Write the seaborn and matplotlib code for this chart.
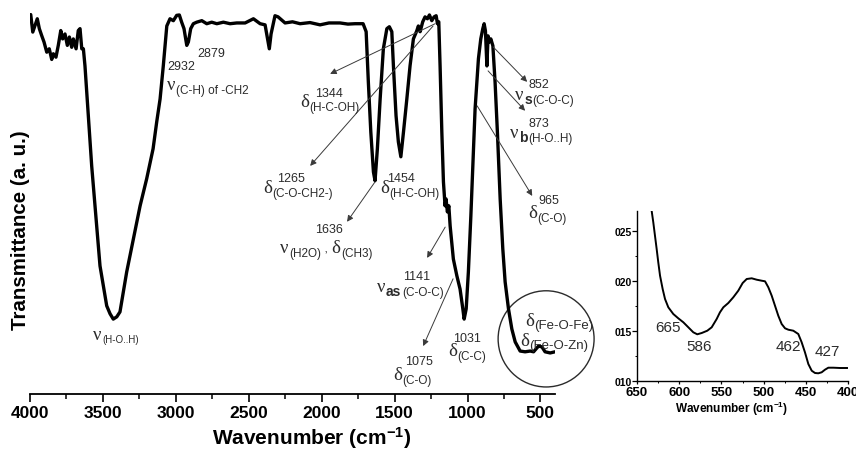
import matplotlib
matplotlib.use("Agg")
import matplotlib.pyplot as plt
import seaborn as sns
import pandas as pd
from matplotlib.patches import Ellipse
from matplotlib.ticker import MultipleLocator

# ---------------- data ----------------
wavenumber = [3995, 3981, 3966, 3950, 3936, 3920, 3904, 3885, 3868, 3851, 3840, 3822, 3806,
              3789, 3776, 3760, 3744, 3730, 3714, 3703, 3684, 3669, 3657, 3645, 3634,
              3623, 3577, 3520, 3474, 3451, 3429, 3405, 3383, 3337, 3291, 3245, 3200, 3156,
              3131, 3108, 3086, 3062, 3040,
              3017, 2994, 2976, 2960, 2944, 2925, 2914, 2898, 2880, 2857, 2822, 2788,
              2754, 2719, 2674, 2628, 2582, 2525, 2468, 2422, 2388, 2371, 2359, 2347,
              2320, 2299, 2251, 2200, 2148, 2080, 2011, 1950, 1874, 1820, 1771, 1716,
              1695, 1680, 1663, 1645, 1634, 1618, 1599, 1577, 1553, 1536, 1519, 1508,
              1490, 1474, 1457, 1439, 1416, 1394, 1371, 1348, 1337, 1325, 1307, 1291,
              1275, 1261, 1245, 1229, 1215, 1206, 1197, 1188, 1176, 1165, 1154, 1147,
              1138, 1128, 1119, 1097, 1073, 1051, 1032, 1023, 1009, 994, 977, 959, 948,
              936, 925, 909, 895, 886, 877, 867, 859, 850, 840, 826, 811, 795, 776, 758,
              742, 719, 696, 673, 639, 605, 570, 547, 513, 490, 468, 433, 400]
transmittance = [99.8, 95.2, 96.9, 98.7, 96.1, 94.3, 92.6, 89.9, 90.8, 88.0, 89.5, 88.6, 91.7,
                 95.6, 93.4, 94.7, 91.7, 93.9, 91.2, 93.4, 90.8, 95.6, 96.1, 90.8, 90.8,
                 86.3, 60.0, 33.7, 23.2, 21.1, 19.7, 20.3, 21.6, 32.1, 40.8, 49.5, 56.6, 64.5,
                 71.6, 77.6, 86.3, 96.8, 98.7,
                 98.2, 99.6, 99.7, 97.8, 96.1, 91.7, 92.6, 96.1, 97.4, 97.8, 98.2, 97.4,
                 97.8, 97.4, 97.8, 97.4, 97.6, 97.6, 98.7, 97.4, 97.1, 93.4, 90.8, 94.7,
                 99.5, 99.2, 97.6, 97.9, 97.4, 97.7, 97.1, 97.6, 97.6, 97.3, 97.4, 97.4,
                 95.3, 82.1, 68.9, 58.4, 56.1, 64.5, 77.6, 90.8, 96.1, 96.6, 95.3, 86.3,
                 73.2, 66.3, 62.4, 68.9, 77.6, 86.3, 93.4, 95.5, 96.8, 95.3, 97.9, 99.2,
                 98.7, 99.7, 98.2, 99.2, 99.5, 97.4, 97.9, 86.3, 68.9, 55.8, 49.5, 51.3,
                 47.9, 49.5, 44.2, 35.5, 31.1, 27.6, 22.4, 19.7, 22.4, 32.1, 46.8, 64.5, 75.0,
                 82.1, 88.2, 93.4, 96.1, 97.4, 95.5, 86.3, 94.2, 92.6, 93.4, 91.6, 82.1, 68.9,
                 51.3, 38.2, 29.5, 22.4, 17.1, 13.7, 11.3, 11.1, 11.3, 11.1, 12.6, 12.4,
                 11.1, 10.8, 11.1]

inset_wavenumber = [632.6, 630.7, 628.7, 626.7, 624.8, 622.7, 619.6, 616.8, 612.9, 607.0, 601.1,
                    595.1, 589.2, 583.3, 578.6, 573.3, 566.7, 561.5, 555.6, 551.7, 547.7, 541.8,
                    535.9, 530.0, 524.8, 520.0, 514.1, 508.2, 502.3, 498.3, 494.4, 490.4, 486.5,
                    482.6, 478.6, 474.6, 470.7, 464.8, 458.9, 454.9, 451.0, 447.0, 443.0, 439.1,
                    435.2, 431.2, 427.3, 423.3, 417.4, 409.5, 400.4]
inset_value = [0.0270, 0.02587, 0.02453, 0.0232, 0.02187, 0.02053, 0.0192, 0.0182, 0.01737,
               0.0167, 0.01627, 0.01587, 0.01537, 0.01487, 0.01467, 0.0148, 0.01503, 0.01537,
               0.0162, 0.01687, 0.01737, 0.0178, 0.01837, 0.01903, 0.0198, 0.0202, 0.02027,
               0.02013, 0.02003, 0.01997, 0.01937, 0.01853, 0.01753, 0.01653, 0.0157, 0.01527,
               0.01513, 0.01503, 0.0147, 0.01387, 0.01287, 0.0117, 0.01103, 0.0108, 0.01077,
               0.01087, 0.01113, 0.01133, 0.01133, 0.0113, 0.0113]

main_xticks = [4000, 3500, 3000, 2500, 2000, 1500, 1000, 500]
inset_xticks = [650, 600, 550, 500, 450, 400]
inset_yticks = [0.010, 0.015, 0.020, 0.025]
inset_yticklabels = ["010", "015", "020", "025"]

# peak numbers: text, wavenumber position, transmittance position
peak_numbers = ["2932", "2879", "1344", "1265", "1454", "1636", "1141", "1075", "1031", "852", "873", "965"]
peak_number_wn = [3060, 2855, 2045, 2306, 1551, 2045, 1442, 1428, 1099, 584, 584, 516]
peak_number_t = [85.5, 88.9, 78.4, 56.1, 56.1, 42.6, 30.3, 7.9, 13.9, 80.8, 70.5, 50.3]

# arrows: tail (wn, t) -> head (wn, t)
arrow_tail_wn = [1222, 1236, 1634, 1153, 1099, 824, 859, 934]
arrow_tail_t = [97.4, 96.8, 55.8, 43.9, 30.3, 91.3, 85.0, 75.8]
arrow_head_wn = [1942, 2079, 1826, 1277, 1304, 591, 605, 556]
arrow_head_t = [84.2, 60.0, 45.3, 35.8, 12.6, 82.1, 74.5, 52.1]

# band assignments: (wn, t, [(text, kind)])  kind: sym / sub / bold / plain
assignments = [
    (3060, 80.3, [("ν", "sym"), ("(C-H) of -CH2", "sub")]),
    (2148, 75.8, [("δ", "sym"), ("(H-C-OH)", "sub")]),
    (2402, 53.2, [("δ", "sym"), ("(C-O-CH2-)", "sub")]),
    (1599, 53.2, [("δ", "sym"), ("(H-C-OH)", "sub")]),
    (2285, 37.4, [("ν", "sym"), ("(H2O)", "sub"), (" , ", "plain"), ("δ", "sym"), ("(CH3)", "sub")]),
    (1620, 27.1, [("ν", "sym"), ("as", "bold"), ("(C-O-C)", "sub")]),
    (1510, 3.9, [("δ", "sym"), ("(C-O)", "sub")]),
    (1133, 10.3, [("δ", "sym"), ("(C-C)", "sub")]),
    (673, 77.6, [("ν", "sym"), ("s", "bold"), ("(C-O-C)", "sub")]),
    (708, 67.6, [("ν", "sym"), ("b", "bold"), ("(H-O..H)", "sub")]),
    (584, 46.6, [("δ", "sym"), ("(C-O)", "sub")]),
    (3568, 14.5, [("ν", "sym"), ("(H-O..H)", "small")]),
    (605, 18.2, [("δ", "sym"), ("(Fe-O-Fe)", "big")]),
    (639, 12.9, [("δ", "sym"), ("(Fe-O-Zn)", "big")]),
]

inset_numbers = ["665", "586", "462", "427"]
inset_number_wn = [628.7, 591.1, 485.3, 440.0]
inset_number_val = [0.01503, 0.01313, 0.01313, 0.01263]

# ---------------- style ----------------
sns.set_theme(style="white")
plt.rcParams["font.family"] = ["Liberation Sans", "DejaVu Sans"]
plt.rcParams["mathtext.fontset"] = "custom"
plt.rcParams["mathtext.rm"] = "Liberation Sans"
plt.rcParams["mathtext.bf"] = "Liberation Sans:bold"
plt.rcParams["mathtext.it"] = "Liberation Sans:italic"

TXT = "#2b2b2b"
fig = plt.figure(figsize=(8.56, 4.52), dpi=100)
ax = fig.add_axes([30 / 856, 57 / 452, 525 / 856, 395 / 452])
ax.set_facecolor("none")

df = pd.DataFrame({"wn": wavenumber, "t": transmittance})
sns.lineplot(data=df, x="wn", y="t", ax=ax, sort=False, estimator=None,
             color="black", lw=2.4)
ax.set_xlim(4000, 400)
ax.set_ylim(0, 103.9)
for s in ["left", "top", "right"]:
    ax.spines[s].set_visible(False)
ax.spines["bottom"].set_color("black")
ax.spines["bottom"].set_linewidth(1.3)
ax.set_yticks([])
ax.set_xticks(main_xticks)
ax.xaxis.set_minor_locator(MultipleLocator(250))
ax.tick_params(axis="x", which="major", bottom=True, direction="out", length=5.5, width=1.2,
               color="black", labelsize=12.5, pad=2.5, labelcolor="black")
ax.tick_params(axis="x", which="minor", bottom=True, direction="out", length=3.5, width=1.1,
               color="black")
for lbl in ax.get_xticklabels():
    lbl.set_fontweight("bold")
ax.set_xlabel(r"Wavenumber (cm$^{\mathbf{-1}}$)", fontsize=15, fontweight="bold", color="black")
ax.xaxis.label.set_va("center")
ax.xaxis.set_label_coords(0.537, -0.109)
ax.set_ylabel("Transmittance (a. u.)", fontsize=14.8, fontweight="bold", color="black")
ax.yaxis.label.set_va("center")
ax.yaxis.set_label_coords(-0.019, 0.418)

# peak numbers
for txt, w, t in zip(peak_numbers, peak_number_wn, peak_number_t):
    ax.text(w, t, txt, fontsize=9, color=TXT, ha="left", va="baseline")

# arrows
for tw, tt, hw, ht in zip(arrow_tail_wn, arrow_tail_t, arrow_head_wn, arrow_head_t):
    ax.annotate("", xy=(hw, ht), xytext=(tw, tt),
                arrowprops=dict(arrowstyle="-|>", color="#3a3a3a", lw=0.7,
                                mutation_scale=9, shrinkA=0, shrinkB=0))

# assignments
styles = {
    "sym": dict(fontsize=13.5, family=["Liberation Serif", "DejaVu Serif"], dy=0, dx=0),
    "sub": dict(fontsize=8.5, family=["Liberation Sans"], dy=-3, dx=0.3),
    "small": dict(fontsize=7, family=["Liberation Sans"], dy=-2.5, dx=0.3),
    "big": dict(fontsize=9.5, family=["Liberation Sans"], dy=-2, dx=0.3),
    "bold": dict(fontsize=10, family=["Liberation Sans"], dy=-3, dx=0.3, fontweight="bold"),
    "plain": dict(fontsize=9, family=["Liberation Sans"], dy=0, dx=0),
}
for w, t, parts in assignments:
    prev = None
    for txt, kind in parts:
        st = dict(styles[kind])
        dx = st.pop("dx")
        dy = st.pop("dy")
        if prev is None:
            prev = ax.text(w, t, txt, color=TXT, ha="left", va="baseline", **st)
        else:
            prev = ax.annotate(txt, xy=(1, t), xycoords=(prev, "data"), xytext=(dx, dy),
                               textcoords="offset points", color=TXT, ha="left",
                               va="baseline", **st)

# circle around the Fe-O region
ax.add_patch(Ellipse((461, 14.5), width=658, height=25.3, fill=False, lw=1.0,
                     ec="#2b2b2b", clip_on=False))

# ---------------- inset ----------------
ax2 = fig.add_axes([637 / 856, 70 / 452, 211 / 856, 170 / 452])
ax2.set_facecolor("white")
dfi = pd.DataFrame({"wn": inset_wavenumber, "v": inset_value})
sns.lineplot(data=dfi, x="wn", y="v", ax=ax2, sort=False, estimator=None, color="black", lw=1.4)
ax2.set_xlim(650, 400)
ax2.set_ylim(0.010, 0.027)
for s in ["top", "right"]:
    ax2.spines[s].set_visible(False)
for s in ["left", "bottom"]:
    ax2.spines[s].set_color("black")
    ax2.spines[s].set_linewidth(1.0)
ax2.set_xticks(inset_xticks)
ax2.set_xticklabels([str(v) for v in inset_xticks])
ax2.set_yticks(inset_yticks)
ax2.set_yticklabels(inset_yticklabels)
ax2.xaxis.set_minor_locator(MultipleLocator(25))
ax2.yaxis.set_minor_locator(MultipleLocator(0.0025))
ax2.tick_params(axis="x", which="major", bottom=True, direction="out", length=2.5, width=0.9,
                labelsize=9.5, pad=1.0, color="black", labelcolor="black")
ax2.tick_params(axis="y", which="major", left=True, direction="out", length=3.5, width=0.9,
                labelsize=7.5, pad=0.4, color="black", labelcolor="black")
ax2.tick_params(which="minor", bottom=True, left=True, direction="out", length=1.5, width=0.7,
                color="black")
for lbl in ax2.get_xticklabels() + ax2.get_yticklabels():
    lbl.set_fontweight("bold")
ax2.set_xlabel(r"Wavenumber (cm$^{\mathbf{-1}}$)", fontsize=8.5, fontweight="bold", color="black")
ax2.xaxis.label.set_va("center")
ax2.xaxis.set_label_coords(0.448, -0.16)
ax2.set_ylabel("")
for txt, w, v in zip(inset_numbers, inset_number_wn, inset_number_val):
    ax2.text(w, v, txt, fontsize=11, color=TXT, ha="left", va="baseline")

fig.savefig("out.png", dpi=100)
